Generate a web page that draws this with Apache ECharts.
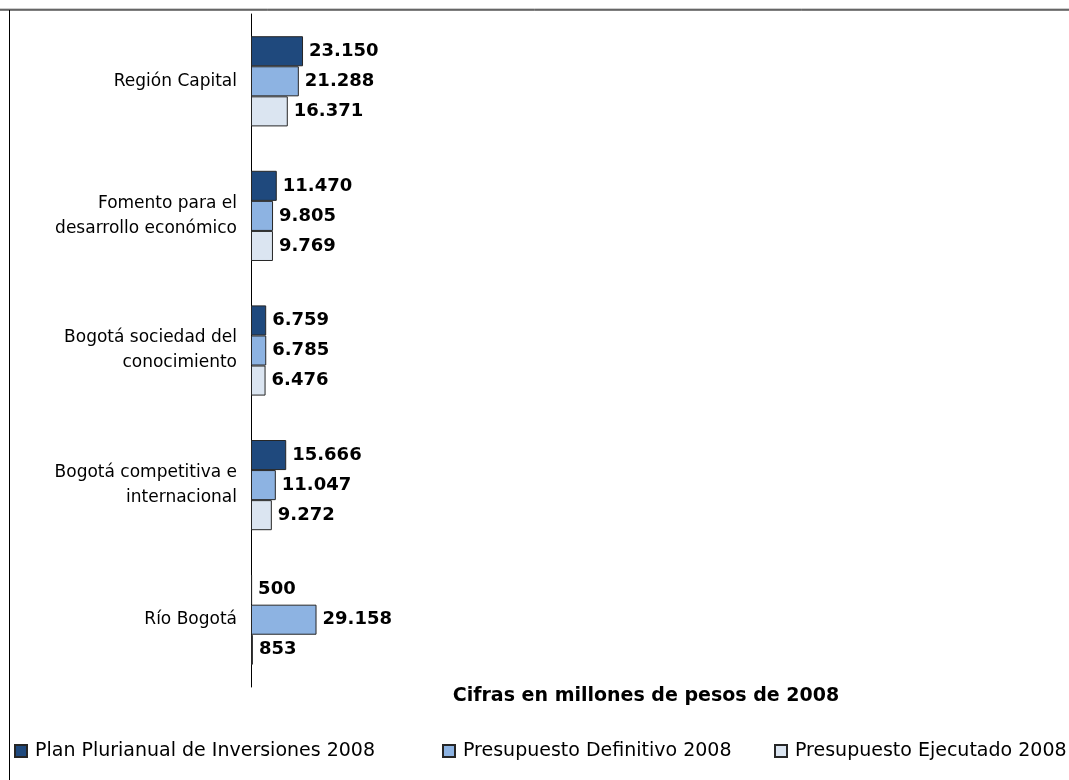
<!DOCTYPE html>
<html>
<head>
<meta charset="utf-8">
<script src="https://cdn.jsdelivr.net/npm/echarts@6/dist/echarts.min.js"></script>
<style>
html,body{margin:0;padding:0;background:#fff;}
#chart{width:1069px;height:780px;}
</style>
</head>
<body>
<div id="chart"></div>
<script>
var categories = ['Región Capital', 'Fomento para el\ndesarrollo económico', 'Bogotá sociedad del\nconocimiento', 'Bogotá competitiva e\ninternacional', 'Río Bogotá'];
var seriesNames = ['Plan Plurianual de Inversiones 2008', 'Presupuesto Definitivo 2008', 'Presupuesto Ejecutado 2008'];
var planPlurianual = [23150, 11470, 6759, 15666, 500];
var presupuestoDefinitivo = [21288, 9805, 6785, 11047, 29158];
var presupuestoEjecutado = [16371, 9769, 6476, 9272, 853];
var subtitleText = 'Cifras en millones de pesos de 2008';

var colors = ['#1F497D', '#8DB3E2', '#DBE5F1'];
var FONT = 'DejaVu Sans';
var legendLefts = [14, 442, 774];

function fmt(v) {
  return String(v).replace(/\B(?=(\d{3})+(?!\d))/g, '.');
}

function mkSeries(name, data, color) {
  return {
    name: name,
    type: 'bar',
    data: data,
    barGap: '0%',
    barCategoryGap: '33%',
    itemStyle: { color: color, borderColor: '#262626', borderWidth: 1 },
    label: {
      show: true,
      position: 'right',
      distance: 6,
      fontFamily: FONT,
      fontSize: 18,
      fontWeight: 'bold',
      color: '#000',
      formatter: function (p) { return fmt(p.value); }
    },
    animation: false
  };
}

function mkLegend(i) {
  return {
    left: legendLefts[i],
    top: 741,
    padding: 0,
    icon: 'rect',
    itemWidth: 12,
    itemHeight: 12,
    textStyle: { fontFamily: FONT, fontSize: 19, color: '#000', lineHeight: 20, padding: [0, 0, 0, 3] },
    data: [seriesNames[i]]
  };
}

var chart = echarts.init(document.getElementById('chart'));
chart.setOption({
  animation: false,
  textStyle: { fontFamily: FONT },
  grid: { left: 251, right: 9, top: 14, bottom: 93, containLabel: false },
  xAxis: {
    type: 'value',
    min: 0,
    max: 360000,
    show: false
  },
  yAxis: {
    type: 'category',
    data: categories,
    inverse: true,
    axisLine: { show: true, lineStyle: { color: '#000', width: 1 } },
    axisTick: { show: false },
    axisLabel: {
      margin: 14,
      fontFamily: FONT,
      fontSize: 17,
      color: '#000',
      lineHeight: 25,
      align: 'right'
    }
  },
  legend: [mkLegend(0), mkLegend(1), mkLegend(2)],
  graphic: [
    { type: 'line', shape: { x1: 0, y1: 9, x2: 1069, y2: 9 }, style: { stroke: '#999', lineWidth: 1 } },
    { type: 'line', shape: { x1: 0, y1: 10, x2: 1069, y2: 10 }, style: { stroke: '#000', lineWidth: 1 } },
    { type: 'line', shape: { x1: 9.5, y1: 10, x2: 9.5, y2: 780 }, style: { stroke: '#000', lineWidth: 1 } },
    { type: 'text', x: 646, y: 696, style: { text: subtitleText, fontFamily: FONT, fontSize: 19, fontWeight: 'bold', fill: '#000', textAlign: 'center', textVerticalAlign: 'middle' } }
  ],
  series: [
    mkSeries(seriesNames[0], planPlurianual, colors[0]),
    mkSeries(seriesNames[1], presupuestoDefinitivo, colors[1]),
    mkSeries(seriesNames[2], presupuestoEjecutado, colors[2])
  ]
});
</script>
</body>
</html>
